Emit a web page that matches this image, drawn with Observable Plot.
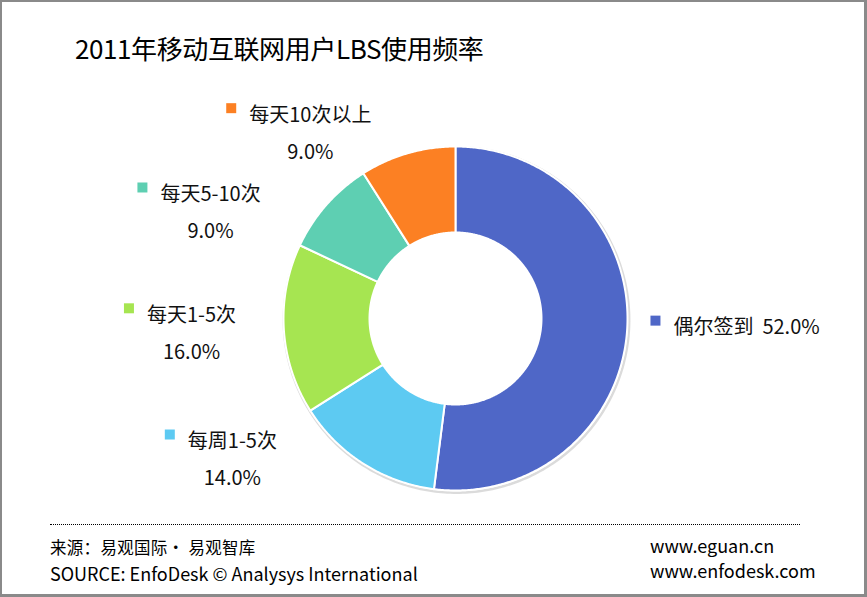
<!DOCTYPE html>
<html>
<head>
<meta charset="utf-8">
<script src="https://cdn.jsdelivr.net/npm/d3@7"></script>
<script src="https://cdn.jsdelivr.net/npm/@observablehq/plot@0.6"></script>
<style>
  html, body { margin: 0; padding: 0; background: #fff; }
  #page { position: relative; width: 867px; height: 597px; overflow: hidden; font-family: 'Noto Sans CJK SC', 'Noto Sans', sans-serif; color: #000; }
  #frame { position: absolute; left: 0; top: 0; width: 867px; height: 597px; box-sizing: border-box; border-style: solid; border-color: #8a8a8a; border-width: 2px 3px 3px 2px; pointer-events: none; }
  #chart { position: absolute; left: 0; top: 0; }
  .t { position: absolute; white-space: pre; line-height: 1; }
  #title { left: 75px; top: 35px; font-size: 26px; letter-spacing: -0.4px; }
  #rule { position: absolute; left: 50px; top: 524px; width: 750px; border-top: 1px dotted #000; }
  #src1 { left: 50px; top: 539px; font-size: 16.5px; letter-spacing: 0.3px; }
  #src2 { left: 50px; top: 564px; font-size: 18px; }
  #web1 { left: 650px; top: 536px; font-size: 18px; }
  #web2 { left: 650px; top: 561px; font-size: 18px; }
</style>
</head>
<body>
<div id="page">
  <div id="chart"></div>
  <div class="t" id="title">2011年移动互联网用户LBS使用频率</div>
  <div id="rule"></div>
  <div class="t" id="src1">来源：易观国际· 易观智库</div>
  <div class="t" id="src2">SOURCE: EnfoDesk © Analysys International</div>
  <div class="t" id="web1">www.eguan.cn</div>
  <div class="t" id="web2">www.enfodesk.com</div>
  <div id="frame"></div>
</div>
<script>
// ---- data ----
const categories = ["偶尔签到", "每周1-5次", "每天1-5次", "每天5-10次", "每天10次以上"];
const shares = [52.0, 14.0, 16.0, 9.0, 9.0];
const colors = ["#4F67C7", "#5DCAF2", "#A6E551", "#5ECFB2", "#FC8023"];

// ---- layout (not data) ----
const W = 867, H = 597;
const CX = 455, CY = 318, R = 172;          // donut centre & outer radius in px
const INNER = 0.5;                            // inner radius as fraction
const FONT = "'Noto Sans CJK SC', 'Noto Sans', sans-serif";
// label block placement: angle clockwise from 12 o'clock (deg), distance in radii
const labelAngle = [91.6, 237.8, 266.9, 293.5, 322.0];
const labelDist  = [1.693, 1.533, 1.537, 1.553, 1.371];
const lineGap = 37;    // px between category line and value line
const textLift = 4;    // px

const fmt = v => d3.format(".1f")(v) + "%";
const total = d3.sum(shares);

// slice polygons in unit-radius coordinates (y up)
const polys = [];
let acc = 0;
categories.forEach((c, i) => {
  const a0 = acc / total * 2 * Math.PI;
  acc += shares[i];
  const a1 = acc / total * 2 * Math.PI;
  const n = Math.max(2, Math.ceil((a1 - a0) / (Math.PI / 360)));
  for (let j = 0; j <= n; j++) {
    const a = a0 + (a1 - a0) * j / n;
    polys.push({cat: c, x: Math.sin(a), y: Math.cos(a)});
  }
  for (let j = n; j >= 0; j--) {
    const a = a0 + (a1 - a0) * j / n;
    polys.push({cat: c, x: INNER * Math.sin(a), y: INNER * Math.cos(a)});
  }
});

// faint shadow ring, nudged down-right
const ring = d3.range(0, 361, 1).map(d => ({
  x: 1.004 * Math.sin(d * Math.PI / 180) + 1 / R,
  y: 1.004 * Math.cos(d * Math.PI / 180) - 1.5 / R
}));

// labels
const ctx = document.createElement("canvas").getContext("2d");
ctx.font = `20px ${FONT}`;
const labels = categories.map((c, i) => {
  const a = labelAngle[i] * Math.PI / 180;
  const x = labelDist[i] * Math.sin(a);
  const y = labelDist[i] * Math.cos(a);
  const single = i === 0;
  const first = single ? `${c}\u00a0 ${fmt(shares[i])}` : c;
  const text = single ? first : `${c}\n${fmt(shares[i])}`;
  const w = ctx.measureText(first).width;
  const lineY = single ? y : y + (lineGap / 2) / R;
  return {
    cat: c, text, x,
    y: y + textLift / R,
    sx: x - (w / 2 + 18) / R,
    sy: lineY + 6 / R
  };
});

const chart = Plot.plot({
  width: W,
  height: H,
  marginLeft: CX - R,
  marginRight: W - (CX + R),
  marginTop: CY - R,
  marginBottom: H - (CY + R),
  x: {domain: [-1, 1], axis: null},
  y: {domain: [-1, 1], axis: null},
  color: {domain: categories, range: colors},
  style: {fontFamily: FONT, background: "transparent", overflow: "visible"},
  marks: [
    Plot.line(ring, {x: "x", y: "y", stroke: "#bdbdbd", strokeWidth: 2.5, strokeOpacity: 0.55, curve: "linear-closed"}),
    Plot.line(polys, {x: "x", y: "y", z: "cat", fill: "cat", stroke: "white", strokeWidth: 2, curve: "linear-closed"}),
    Plot.text(labels, {x: "x", y: "y", text: "text", textAnchor: "middle", lineAnchor: "middle", lineHeight: lineGap / 20, fontSize: 20, fill: "#111"}),
    Plot.dot(labels, {x: "sx", y: "sy", fill: "cat", symbol: "square", r: 5.64, stroke: "none"})
  ]
});
document.getElementById("chart").appendChild(chart);
</script>
</body>
</html>
